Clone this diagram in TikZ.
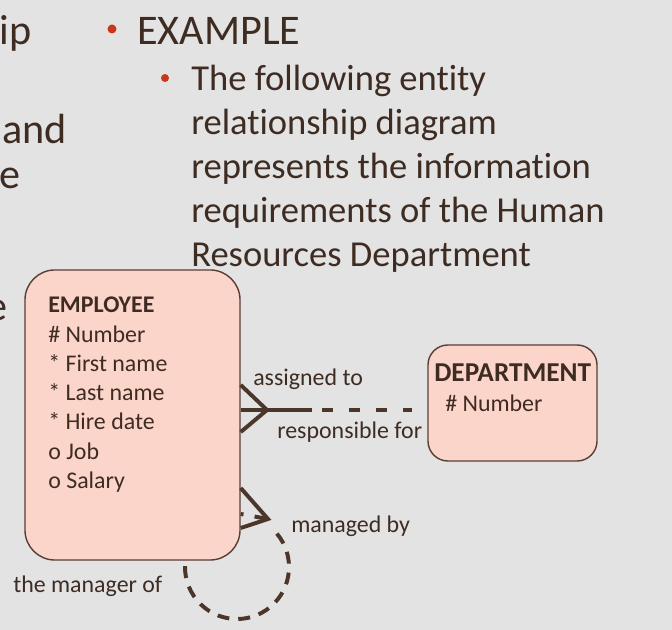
\documentclass[tikz,border=0pt]{standalone}
\usepackage{fontspec}
\setmainfont{Carlito}[Ligatures=NoCommon]
\usetikzlibrary{calc}

\definecolor{slidebg}{HTML}{E2E3E2}
\definecolor{inkbrown}{HTML}{3E2C23}
\definecolor{bulletred}{HTML}{C9371C}
\definecolor{boxpink}{HTML}{FBD4CA}
\definecolor{boxline}{HTML}{5A3E36}
\definecolor{relbrown}{HTML}{4B362C}

\begin{document}
\begin{tikzpicture}[
  x=0.025cm, y=0.025cm,
  every node/.style={text=inkbrown, inner sep=0pt},
  headtext/.style={font=\fontsize{30}{35}\selectfont, anchor=base west},
  cuttext/.style={font=\fontsize{30}{35}\selectfont, anchor=base east},
  subtext/.style={font=\fontsize{26}{31}\selectfont, anchor=base west},
  bullet/.style={circle, fill=bulletred, inner sep=0pt},
  entity/.style={draw=boxline, fill=boxpink, line width=1pt},
  attr/.style={font=\fontsize{17}{20.8}\selectfont, align=left, anchor=north west},
  lbl/.style={font=\fontsize{17}{20}\selectfont, anchor=base west},
  rel/.style={draw=relbrown, line width=2.8pt},
  reldash/.style={rel, dash pattern=on 7.8pt off 11.4pt},
  loopdash/.style={rel, dash pattern=on 8.5pt off 6.4pt}
]

% slide background
\fill[slidebg] (0,0) rectangle (672,630);
\useasboundingbox (0,0) rectangle (672,630);
\clip (0,0) rectangle (672,630);

% text cut off at the left edge
\node[cuttext] (cut1) at (32,585) {ip};
\node[cuttext] (cut2) at (67,486) {and};
\node[cuttext] (cut3) at (21,441) {e};
\node[cuttext] (cut4) at (8,309)  {e};

% bullets
\node[bullet, minimum size=0.225cm] (b1) at (112,601) {};
\node[headtext] (head) at (137,585) {EXAMPLE};
\node[bullet, minimum size=0.2cm] (b2) at (165,552) {};
\node[subtext] (l1) at (191,539) {The following entity};
\node[subtext] (l2) at (191,495) {relationship diagram};
\node[subtext] (l3) at (191,451) {represents the information};
\node[subtext] (l4) at (191,407) {requirements of the Human};
\node[subtext] (l5) at (191,363) {Resources Department};

% recursive loop (behind the box)
\coordinate (ctr) at (237,63);
\draw[loopdash] ($(ctr)+(40:52)$) arc[start angle=40, end angle=-188, radius=1.3cm];

% entities
\node[entity, rounded corners=0.75cm, minimum width=5.375cm, minimum height=7.25cm] (emp) at (132.5,215) {};
\node[attr] (empattr) at (48,333) {\textbf{EMPLOYEE}\\\# Number\\* First name\\* Last name\\* Hire date\\o Job\\o Salary};

\node[entity, rounded corners=0.5cm, minimum width=4.225cm, minimum height=2.9cm] (dept) at (512.5,227) {};
\node[anchor=base west, font=\fontsize{19.4}{22}\selectfont\bfseries] (depttitle) at (434,248) {DEPARTMENT};
\node[lbl] (deptattr) at (445,218) {\# Number};

% assigned to / responsible for
\coordinate (toe1) at (267,220);
\coordinate (mid1) at (312,220);
\draw[rel] ($(toe1 -| emp.east)+(0,25)$) -- (toe1) -- ($(toe1 -| emp.east)+(0,-22)$);
\draw[rel] (toe1 -| emp.east) -- (mid1);
\draw[reldash] ($(mid1)+(10,0)$) -- ($(toe1 -| dept.west)+(-15,0)$);
\node[lbl] (assigned) at (253,244) {assigned to};
\node[lbl] (resp) at (277,191) {responsible for};

% managed by / the manager of
\coordinate (toe2) at (268,111);
\draw[rel] ($(toe2 -| emp.east)+(0,31)$) -- (toe2) -- ($(toe2 -| emp.east)+(0,-9)$);
\draw[rel, dash pattern=on 2pt off 8pt on 12pt] ($(toe2 -| emp.east)+(0,5)$) -- (toe2);
\node[lbl] (managed) at (291,97) {managed by};
\node[lbl] (manager) at (13,37) {the manager of};

\end{tikzpicture}
\end{document}
